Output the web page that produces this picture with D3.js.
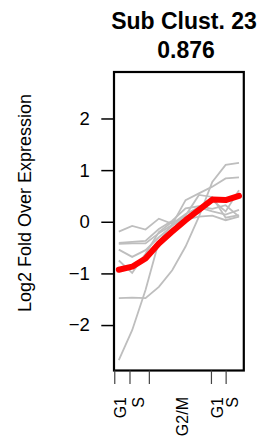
<!DOCTYPE html>
<html>
<head>
<meta charset="utf-8">
<script src="https://cdn.jsdelivr.net/npm/d3@7"></script>
<style>
  body { margin: 0; background: #fff; }
  text { font-family: "Liberation Sans", Arial, sans-serif; }
</style>
</head>
<body>
<div id="chart"></div>
<script>
// time points of the cell cycle series
var timepoints = [1, 2, 3, 4, 5, 6, 7, 8, 9, 10];

// member genes of the sub cluster (gray)
var profileA = [-2.68, -2.10, -1.32, -0.38, -0.05, 0.42, 0.55, 0.68, 0.84, 0.86];
var profileB = [-1.48, -1.47, -1.48, -1.26, -0.94, -0.48, 0.10, 0.77, 1.10, 1.14];
var profileC = [-0.19, -0.08, -0.15, 0.06, -0.04, 0.15, 0.28, 0.20, 0.14, 0.23];
var profileD = [-0.41, -0.39, -0.37, -0.14, 0.02, 0.26, 0.30, 0.25, 0.32, 0.10];
var profileE = [-0.43, -0.42, -0.42, -0.22, -0.06, 0.05, 0.18, 0.42, 0.20, 0.61];
var profileF = [-0.54, -0.68, -0.55, -0.30, -0.08, 0.12, 0.52, 0.48, 0.08, 0.13];
var profileG = [-0.75, -0.99, -0.62, -0.20, 0.00, 0.04, 0.10, 0.12, 0.03, 0.10];

// cluster centroid (red)
var centroid = [-0.93, -0.87, -0.71, -0.42, -0.19, 0.03, 0.23, 0.43, 0.42, 0.50];

var yTicks = [-2, -1, 0, 1, 2];
var tickPositions = [0.66, 1.8, 3.25, 7.9, 9.0];
var labelPositions = [1.07, 2.43, 5.7, 8.35, 9.47];
var phaseLabels = ["G1", "S", "G2/M", "G1", "S"];

(function() {

    var width = 272,
        height = 440;

    var box = {left: 114, right: 243.8, top: 72, bottom: 370.5};

    var svg = d3.select("#chart")
        .append('svg')
        .attr('width', width)
        .attr('height', height);

    var x = d3.scaleLinear().domain([0.64, 10.36]).range([box.left, box.right]);
    var y = d3.scaleLinear().domain([-2.88, 2.9]).range([box.bottom, box.top]);

    var line = d3.line()
        .x(function(d, i) { return x(timepoints[i]); })
        .y(function(d) { return y(d); });

    var profiles = [profileA, profileB, profileC, profileD, profileE, profileF, profileG];

    svg.selectAll('.profile')
        .data(profiles)
        .enter().append('path')
        .attr('class', 'profile')
        .attr('d', line)
        .attr('fill', 'none')
        .attr('stroke', '#bebebe')
        .attr('stroke-width', 1.8);

    svg.append('path')
        .datum(centroid)
        .attr('d', line)
        .attr('fill', 'none')
        .attr('stroke', '#ff0000')
        .attr('stroke-width', 6)
        .attr('stroke-linecap', 'round')
        .attr('stroke-linejoin', 'round');

    // frame
    svg.append('rect')
        .attr('x', box.left)
        .attr('y', box.top)
        .attr('width', box.right - box.left)
        .attr('height', box.bottom - box.top)
        .attr('fill', 'none')
        .attr('stroke', '#000')
        .attr('stroke-width', 2.2);

    // y axis
    var yAxis = svg.append('g')
        .attr('transform', 'translate(' + box.left + ',0)')
        .call(d3.axisLeft(y).tickValues(yTicks).tickSize(12.7).tickPadding(11.5)
            .tickFormat(d3.format('d')));
    yAxis.select('.domain').remove();
    yAxis.selectAll('line').attr('stroke', '#000').attr('stroke-width', 1.5);
    yAxis.selectAll('text')
        .attr('font-size', 18.5)
        .attr('fill', '#000')
        .style('font-family', '"Liberation Sans", Arial, sans-serif');

    // x ticks
    var xAxis = svg.append('g')
        .attr('transform', 'translate(0,' + box.bottom + ')')
        .call(d3.axisBottom(x).tickValues(tickPositions).tickSize(13.5).tickFormat(''));
    xAxis.select('.domain').remove();
    xAxis.selectAll('line').attr('stroke', '#444').attr('stroke-width', 1.2);

    // phase labels
    var xLabels = svg.append('g')
        .attr('transform', 'translate(0,' + box.bottom + ')')
        .call(d3.axisBottom(x).tickValues(labelPositions).tickSize(0)
            .tickFormat(function(d, i) { return phaseLabels[i]; }));
    xLabels.select('.domain').remove();
    xLabels.selectAll('text')
        .attr('transform', 'rotate(-90)')
        .attr('x', -26.5)
        .attr('y', 0)
        .attr('dy', '0.35em')
        .attr('text-anchor', 'end')
        .attr('font-size', 16)
        .attr('fill', '#000')
        .style('font-family', '"Liberation Sans", Arial, sans-serif');

    // y axis title
    svg.append('text')
        .attr('transform', 'translate(25,203) rotate(-90)')
        .attr('text-anchor', 'middle')
        .attr('dy', '0.35em')
        .attr('font-size', 18)
        .text('Log2 Fold Over Expression');

    // title
    svg.append('text')
        .attr('x', 184)
        .attr('y', 29)
        .attr('text-anchor', 'middle')
        .attr('font-size', 23)
        .attr('font-weight', 'bold')
        .text('Sub Clust. 23');

    svg.append('text')
        .attr('x', 186)
        .attr('y', 58)
        .attr('text-anchor', 'middle')
        .attr('font-size', 23)
        .attr('font-weight', 'bold')
        .text('0.876');

})();
</script>
</body>
</html>
